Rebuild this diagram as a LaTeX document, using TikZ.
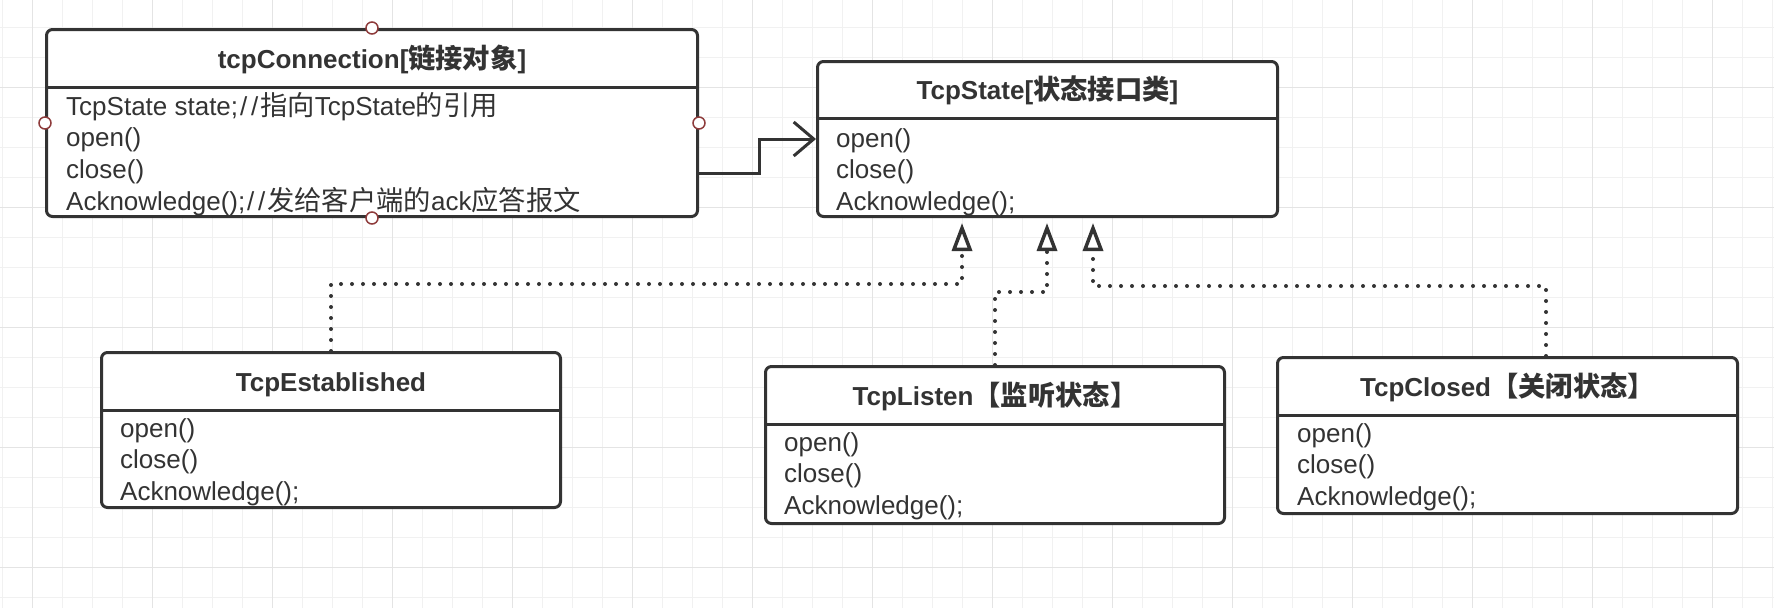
\documentclass[tikz,border=0pt]{standalone}
\usepackage{fontspec}
\setmainfont{Liberation Sans}
\newfontfamily\cjk[Scale=1.05]{Noto Sans CJK SC}
\usetikzlibrary{positioning,calc,arrows.meta}
\definecolor{ink}{HTML}{333333}
\definecolor{gridline}{HTML}{F1F1F1}
\definecolor{gridmajor}{HTML}{E4E4E4}
\definecolor{portred}{HTML}{8E3B3B}
\tikzset{
  classbox/.style={draw=ink,line width=3pt,rounded corners=6pt,fill=white,inner sep=0pt,anchor=north west},
  classname/.style={font=\fontsize{26}{32}\selectfont\bfseries,text=ink,anchor=base,inner sep=0pt},
  member/.style={font=\fontsize{26}{32}\selectfont,text=ink,anchor=base west,inner sep=0pt},
  divider/.style={draw=ink,line width=3pt},
  portmark/.style={draw=portred,line width=1.5pt,fill=white},
  assoc/.style={draw=ink,line width=3pt,-{Straight Barb[length=20pt,width=34pt]}},
  realize/.style={draw=ink,line width=4pt,line cap=round,dash pattern=on 0pt off 11pt,
    -{Triangle[fill=white,length=28pt,width=20pt,line width=3.5pt]},shorten >=5pt},
}
\newcommand*{\zh}[1]{{\cjk #1}}
\newcommand*{\dsl}{\makebox[11pt]{/}\makebox[11pt]{/}}

\begin{document}
\begin{tikzpicture}[x=1pt,y=-1pt]
\fill[white] (0,0) rectangle (1774,608);
\useasboundingbox (0,0) rectangle (1774,608);
% background grid
\foreach \gx in {2,32,...,1772} \draw[gridline,line width=1pt] (\gx,0) -- (\gx,608);
\foreach \gy in {27,57,...,597} \draw[gridline,line width=1pt] (0,\gy) -- (1774,\gy);
\foreach \gx in {32,152,...,1712} \draw[gridmajor,line width=1pt] (\gx,0) -- (\gx,608);
\foreach \gy in {87,207,...,567} \draw[gridmajor,line width=1pt] (0,\gy) -- (1774,\gy);

% classes
\node[classbox,minimum width=651pt,minimum height=187pt] (conn) at (45,28) {};
\node[classbox,minimum width=460pt,minimum height=155pt] (state) at (816,60) {};
\node[classbox,minimum width=459pt,minimum height=155pt] (est) at (100,351) {};
\node[classbox,minimum width=459pt,minimum height=157pt] (listen) at (764,365) {};
\node[classbox,minimum width=460pt,minimum height=156pt] (closed) at (1276,356) {};

\draw[divider] ($(conn.north west)+(0,59)$) -- ($(conn.north east)+(0,59)$);
\draw[divider] ($(state.north west)+(0,58)$) -- ($(state.north east)+(0,58)$);
\draw[divider] ($(est.north west)+(0,59)$) -- ($(est.north east)+(0,59)$);
\draw[divider] ($(listen.north west)+(0,59)$) -- ($(listen.north east)+(0,59)$);
\draw[divider] ($(closed.north west)+(0,59)$) -- ($(closed.north east)+(0,59)$);

\node[classname] (conn-name) at ($(conn.north)+(0,40)$) {tcpConnection[\zh{链接对象}]};
\node[classname] (state-name) at ($(state.north)+(0,39)$) {TcpState[\zh{状态接口类}]};
\node[classname] (est-name) at ($(est.north)+(0,40)$) {TcpEstablished};
\node[classname] (listen-name) at ($(listen.north)+(0,40)$) {TcpListen\zh{【监听状态】}};
\node[classname] (closed-name) at ($(closed.north)+(0,40)$) {TcpClosed\zh{【关闭状态】}};

\foreach \m [count=\i] in {{TcpState state;\dsl\zh{指向}TcpState\zh{的引用}},open(),close(),{Acknowledge();\dsl\zh{发给客户端的}ack\zh{应答报文}}}
  \node[member] (conn-m\i) at ($(conn.north west)+(21,55.3+31.7*\i)$) {\m};
\foreach \m [count=\i] in {open(),close(),Acknowledge();}
  \node[member] (state-m\i) at ($(state.north west)+(20,55.3+31.7*\i)$) {\m};
\foreach \m [count=\i] in {open(),close(),Acknowledge();}
  \node[member] (est-m\i) at ($(est.north west)+(20,54.3+31.7*\i)$) {\m};
\foreach \m [count=\i] in {open(),close(),Acknowledge();}
  \node[member] (listen-m\i) at ($(listen.north west)+(20,54.3+31.7*\i)$) {\m};
\foreach \m [count=\i] in {open(),close(),Acknowledge();}
  \node[member] (closed-m\i) at ($(closed.north west)+(21,54.3+31.7*\i)$) {\m};

% connection points
\foreach \a in {north,west,east,south}
  \draw[portmark] (conn.\a) circle[radius=6];

% association
\draw[assoc] ($(conn.south east)+(0,-45)$) -- ++(60,0) |- (state.west);

% realizations
\coordinate (tipA) at ($(state.south west)+(146,0)$);
\coordinate (tipB) at ($(state.south west)+(231,0)$);
\coordinate (tipC) at ($(state.south west)+(277,0)$);
\draw[realize] (est.north) -- ++(0,-67) -| (tipA);
\draw[realize] (listen.north) -- ++(0,-73) -| (tipB);
\draw[realize] ($(closed.north west)+(270,0)$) -- ++(0,-70) -| (tipC);
\end{tikzpicture}
\end{document}
